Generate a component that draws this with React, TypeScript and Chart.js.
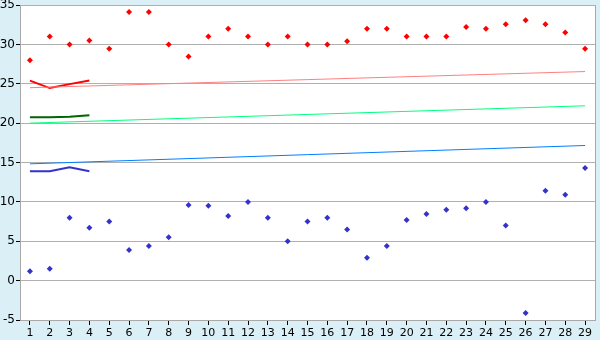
import React, { useEffect, useRef } from "react";
import { Chart, registerables } from "chart.js";

Chart.register(...registerables);

const labels = ["1","2","3","4","5","6","7","8","9","10","11","12","13","14","15","16","17","18","19","20","21","22","23","24","25","26","27","28","29"];
const highs = [28.0, 31.0, 30.0, 30.5, 29.45, 34.1, 34.1, 30.0, 28.45, 31.0, 32.0, 31.0, 30.0, 31.0, 30.0, 30.0, 30.4, 32.0, 32.0, 31.0, 31.0, 31.0, 32.2, 32.0, 32.55, 33.05, 32.55, 31.5, 29.45];
const lows = [1.2, 1.5, 8.0, 6.7, 7.5, 3.9, 4.4, 5.5, 9.6, 9.5, 8.2, 10.0, 8.0, 5.0, 7.5, 8.0, 6.5, 2.9, 4.4, 7.7, 8.45, 9.0, 9.2, 10.0, 7.0, -4.1, 11.4, 10.9, 14.3];
const shortHigh = [25.4, 24.45, 24.95, 25.4];
const shortMid = [20.75, 20.75, 20.8, 21.0];
const shortLow = [13.9, 13.9, 14.4, 13.9];
const trendHigh = [24.5, 26.55];
const trendMid = [20.0, 22.2];
const trendLow = [14.83, 17.16];
const yTicks = [-5, 0, 5, 10, 15, 20, 25, 30, 35];

const FONT = "DejaVu Sans";

const bgPlugin = {
  id: "bg",
  beforeDraw(chart: any) {
    const { ctx, chartArea: a } = chart;
    ctx.save();
    ctx.fillStyle = "#daeff6";
    ctx.fillRect(0, 0, chart.width, chart.height);
    ctx.fillStyle = "#ffffff";
    ctx.fillRect(a.left, a.top, a.right - a.left, a.bottom - a.top);
    ctx.restore();
  },
  afterDraw(chart: any) {
    const { ctx, chartArea: a } = chart;
    ctx.save();
    ctx.strokeStyle = "#a8a8a8";
    ctx.lineWidth = 1;
    ctx.beginPath();
    ctx.moveTo(a.right + 0.5, a.top);
    ctx.lineTo(a.right + 0.5, a.bottom);
    ctx.stroke();
    ctx.restore();
  },
};

function trend(vals: number[]) {
  return [
    { x: labels[0], y: vals[0] },
    { x: labels[labels.length - 1], y: vals[1] },
  ];
}

export default function App() {
  const ref = useRef<HTMLCanvasElement>(null);
  useEffect(() => {
    document.body.style.margin = "0";
    const chart = new Chart(ref.current as HTMLCanvasElement, {
      type: "line",
      data: {
        labels,
        datasets: [
          { data: trend(trendHigh), borderColor: "#ff8080", borderWidth: 1, pointRadius: 0, fill: false },
          { data: trend(trendMid), borderColor: "#00ff80", borderWidth: 1, pointRadius: 0, fill: false },
          { data: trend(trendLow), borderColor: "#0080ff", borderWidth: 1, pointRadius: 0, fill: false },
          { data: shortHigh, borderColor: "#ff0000", borderWidth: 2, pointRadius: 0, fill: false },
          { data: shortMid, borderColor: "#006600", borderWidth: 2, pointRadius: 0, fill: false },
          { data: shortLow, borderColor: "#3333cc", borderWidth: 2, pointRadius: 0, fill: false },
          { data: highs, showLine: false, pointStyle: "rectRot", pointRadius: 3, backgroundColor: "#ff0000", borderColor: "#ff0000", borderWidth: 0 },
          { data: lows, showLine: false, pointStyle: "rectRot", pointRadius: 3, backgroundColor: "#3333cc", borderColor: "#3333cc", borderWidth: 0 },
        ],
      },
      options: {
        responsive: false,
        animation: false,
        devicePixelRatio: 1,
        layout: { padding: { top: 5, right: 5, left: 0, bottom: 0 } },
        plugins: { legend: { display: false }, tooltip: { enabled: false } },
        elements: { line: { tension: 0 } },
        scales: {
          x: {
            type: "category",
            offset: true,
            grid: { offset: false, drawOnChartArea: false, drawTicks: true, tickLength: 5, color: "#000000" },
            border: { color: "#a8a8a8" },
            ticks: { color: "#000000", font: { family: FONT, size: 11 }, padding: 2, maxRotation: 0, autoSkip: false },
            afterFit(scale: any) {
              scale.height = 20;
              scale.paddingLeft = 0;
              scale.paddingRight = 0;
            },
          },
          y: {
            min: -5,
            max: 35,
            afterBuildTicks(scale: any) {
              scale.ticks = yTicks.map((v) => ({ value: v }));
            },
            grid: {
              color: "#b0b0b0",
              tickColor: "#000000",
              tickLength: 4,
            },
            border: { color: "#a8a8a8" },
            ticks: { color: "#000000", font: { family: FONT, size: 12 }, padding: 1 },
            afterFit(scale: any) {
              scale.width = 20;
              scale.paddingTop = 0;
              scale.paddingBottom = 0;
            },
          },
        },
      },
      plugins: [bgPlugin],
    } as any);
    return () => chart.destroy();
  }, []);
  return (
    <div style={{ position: "absolute", left: 0, top: 0, width: 600, height: 340 }}>
      <canvas ref={ref} width={600} height={340} />
    </div>
  );
}
